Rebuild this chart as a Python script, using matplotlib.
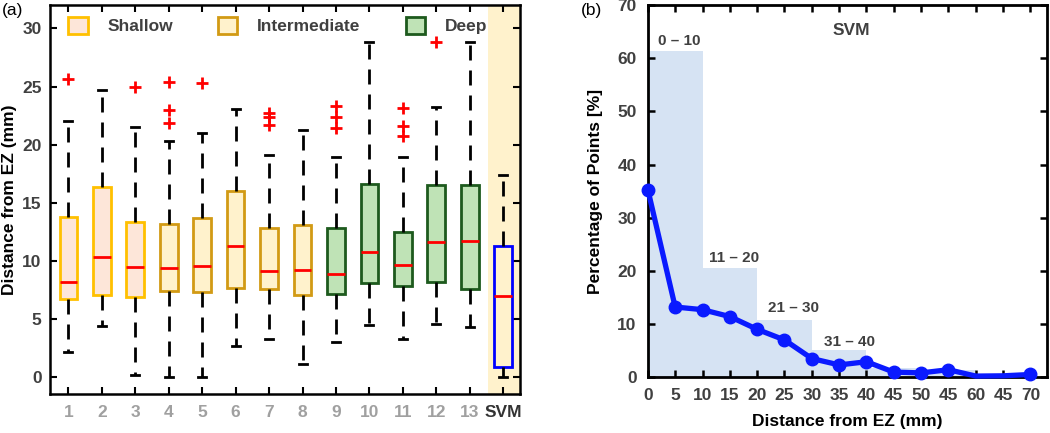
import matplotlib
matplotlib.use('Agg')
from matplotlib import pyplot as plt
from matplotlib.patches import Patch

plt.rcParams['font.family'] = ['Liberation Sans', 'DejaVu Sans']
plt.rcParams['font.weight'] = 'bold'

# ---- panel (a): box stats ----
groups = ['1', '2', '3', '4', '5', '6', '7', '8', '9', '10', '11', '12', '13', 'SVM']
q1 = [6.75, 7.1, 6.9, 7.45, 7.3, 7.65, 7.6, 7.05, 7.15, 8.1, 7.85, 8.2, 7.6, 0.9]
med = [8.15, 10.3, 9.45, 9.35, 9.55, 11.25, 9.15, 9.25, 8.85, 10.75, 9.65, 11.65, 11.7, 6.95]
q3 = [13.75, 16.35, 13.35, 13.15, 13.7, 16.05, 12.8, 13.1, 12.85, 16.65, 12.5, 16.5, 16.5, 11.3]
wlo = [2.15, 4.4, 0.15, 0.05, 0.05, 2.7, 3.25, 1.15, 3.05, 4.5, 3.25, 4.6, 4.35, 0.0]
whi = [22.05, 24.7, 21.55, 20.3, 21.0, 23.1, 19.15, 21.3, 18.95, 28.85, 18.9, 23.25, 28.8, 17.35]
fliers = [[25.65], [], [25.0], [25.4, 23.0, 21.9], [25.3], [], [22.7, 22.4, 21.7], [],
          [23.3, 22.4, 21.4], [], [23.15, 21.6, 20.75], [28.85], [], []]
depth = ['Shallow'] * 3 + ['Intermediate'] * 5 + ['Deep'] * 5 + ['SVM']

# ---- panel (b) ----
dist = [0, 5, 10, 15, 20, 25, 30, 35, 40, 45, 50, 55, 60, 65, 70]
pct = [35.3, 13.2, 12.7, 11.4, 9.0, 7.0, 3.5, 2.3, 2.9, 0.95, 0.8, 1.4, 0.2, 0.25, 0.5]
dist_ticklabels = ['0', '5', '10', '15', '20', '25', '30', '35', '40', '45', '50', '45', '60', '45', '70']
bin_left = [0, 10, 20, 30, 40, 50, 60]
bin_pct = [61.4, 20.6, 10.7, 5.2, 1.8, 1.3, 0.4]
bin_labels = ['0 – 10', '11 – 20', '21 – 30', '31 – 40']

face = {'Shallow': '#FDE6D9', 'Intermediate': '#FFF2CC', 'Deep': '#BFE3B6', 'SVM': 'none'}
edge = {'Shallow': '#FFC000', 'Intermediate': '#D29A14', 'Deep': '#1D5A1D', 'SVM': '#0000FF'}
dark = '#404040'

fig = plt.figure(figsize=(10.5, 4.33), dpi=100)
ax = fig.add_axes([0.0476, 0.09, 0.4476, 0.898])

pos = list(range(1, len(groups) + 1))
ax.axvspan(13.55, 14.6, color='#FFF2CC', lw=0, zorder=0)

stats = []
for i in range(len(groups)):
    stats.append(dict(q1=q1[i], med=med[i], q3=q3[i], whislo=wlo[i], whishi=whi[i],
                      fliers=fliers[i], label=groups[i]))
bp = ax.bxp(stats, positions=pos, widths=0.53, capwidths=0.24, patch_artist=True,
            flierprops=dict(marker='+', markeredgecolor='red', markersize=8, markeredgewidth=2),
            medianprops=dict(color='red', lw=2),
            whiskerprops=dict(color='black', lw=2, linestyle=(0, (5.4, 3.6))),
            capprops=dict(color='black', lw=2))
for b, d in zip(bp['boxes'], depth):
    b.set_facecolor(face[d])
    b.set_edgecolor(edge[d])
    b.set_linewidth(2)

ax.set_xlim(0.45, 14.5)
ax.set_ylim(-1.45, 32)
ax.set_yticks([0, 5, 10, 15, 20, 25, 30])
ax.set_xticks(pos)
ax.set_xticklabels(groups)
for t in ax.get_xticklabels():
    t.set_color('#333333' if t.get_text() == 'SVM' else '#A0A0A0')
ax.tick_params(direction='in', top=True, right=True, length=5, width=1.5, labelsize=12.5, pad=8)
ax.tick_params(axis='y', labelcolor=dark, pad=6)
for s in ax.spines.values():
    s.set_linewidth(1.8)
ax.set_ylabel('Distance from EZ (mm)', fontsize=12.5, fontweight='bold', labelpad=4)

handles = [Patch(facecolor=face[k], edgecolor=edge[k], lw=2) for k in ['Shallow', 'Intermediate', 'Deep']]
leg = ax.legend(handles, ['Shallow', 'Intermediate', 'Deep'], ncol=3, loc='upper left',
                bbox_to_anchor=(0.006, 1.01), frameon=False, fontsize=12.5,
                handlelength=1.1, handleheight=1.1, handletextpad=1.15, columnspacing=2.6)
for t in leg.get_texts():
    t.set_color(dark)

fig.text(0.002, 0.975, '(a)', fontsize=12.5, fontweight='normal', va='center')

# ---- panel (b) ----
bx = fig.add_axes([0.617, 0.129, 0.38, 0.859])
bx.bar(bin_left, bin_pct, width=10, align='edge', color='#D6E3F3', zorder=1)
mk = [i for i in range(len(dist)) if dist[i] not in (60, 65)]
bx.plot(dist, pct, color='#0A1AFF', lw=3.8, marker='o', ms=9, markevery=mk, zorder=3, clip_on=False)
lab_x = [1.8, 11.2, 22.0, 32.2]
lab_y = [63.3, 22.5, 13.1, 6.6]
for x, y, s in zip(lab_x, lab_y, bin_labels):
    bx.text(x, y, s, fontsize=11, color=dark, ha='left', va='center')
bx.text(37.2, 65.3, 'SVM', fontsize=12.5, color=dark, ha='center', va='center')

bx.set_xlim(0, 73)
bx.set_ylim(0, 70)
bx.set_xticks(dist)
bx.set_xticklabels(dist_ticklabels)
bx.set_yticks([0, 10, 20, 30, 40, 50, 60, 70])
bx.tick_params(direction='in', top=True, right=True, length=5, width=1.8, labelsize=12.5,
               labelcolor=dark, pad=8)
for s in bx.spines.values():
    s.set_linewidth(2)
bx.set_xlabel('Distance from EZ (mm)', fontsize=12.5, fontweight='bold', labelpad=8)
bx.set_ylabel('Percentage of Points [%]', fontsize=12.5, fontweight='bold', labelpad=10)

fig.text(0.553, 0.975, '(b)', fontsize=12.5, fontweight='normal', va='center')

fig.savefig('out.png', dpi=100)
